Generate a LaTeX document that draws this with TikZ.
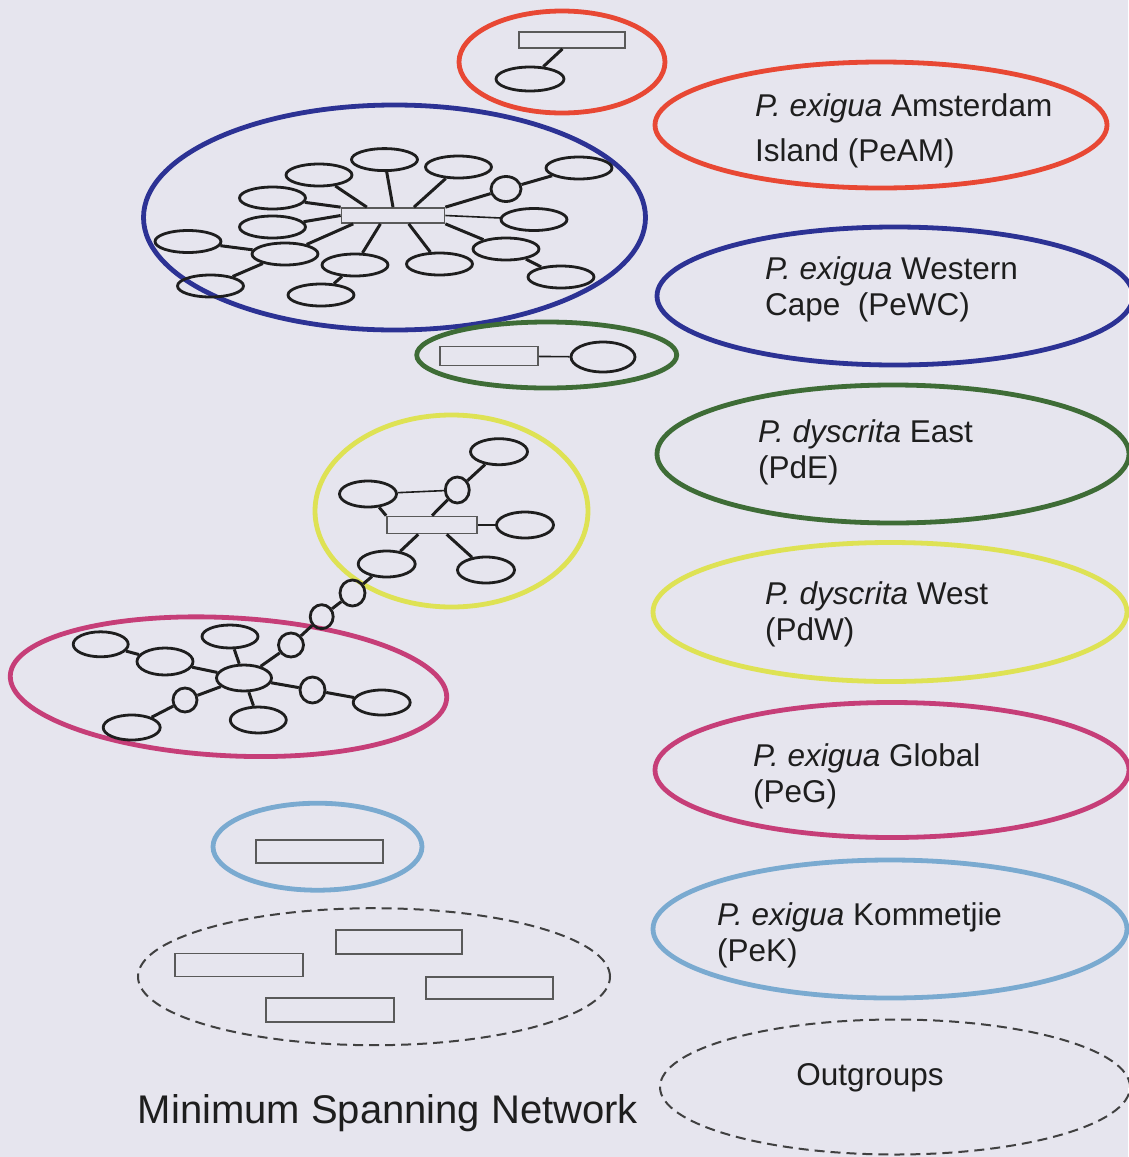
\documentclass[tikz,border=0pt]{standalone}
\usepackage{fontspec}
\setmainfont{Liberation Sans}
\usetikzlibrary{shapes.geometric,calc}
\definecolor{bg}{RGB}{230,229,238}
\definecolor{cred}{RGB}{232,72,52}
\definecolor{cblue}{RGB}{44,50,148}
\definecolor{cgreen}{RGB}{62,108,54}
\definecolor{cyellow}{RGB}{222,226,84}
\definecolor{cmag}{RGB}{198,62,120}
\definecolor{clblue}{RGB}{122,170,208}
\definecolor{ink}{RGB}{30,30,30}
\begin{document}
\begin{tikzpicture}[x=1pt,y=-1pt,
  pop/.style={ellipse,line width=4.8pt,inner sep=0pt},
  outg/.style={ellipse,draw=black!75,line width=2pt,dash pattern=on 10pt off 6pt,inner sep=0pt},
  hap/.style={ellipse,draw=ink,line width=2.8pt,inner sep=0pt,minimum width=66pt,minimum height=22pt},
  haps/.style={hap,minimum width=57pt,minimum height=26pt},
  hrect/.style={rectangle,draw=black!65,line width=1.7pt,inner sep=0pt},
  link/.style={line width=3pt,draw=ink},
  thinlink/.style={line width=1.6pt,draw=ink},
  lab/.style={font=\fontsize{31.5}{36}\selectfont,text=ink,align=left,anchor=west,inner sep=0pt}]
\fill[bg] (0,0) rectangle (1128,1157);
\useasboundingbox (0,0) rectangle (1128,1157);

% ---------- legend ----------
\node[pop,draw=cred,minimum width=452pt,minimum height=126pt] (lAM) at (881,125) {};
\node[pop,draw=cblue,minimum width=476pt,minimum height=138pt] (lWC) at (895,296) {};
\node[pop,draw=cgreen,minimum width=472pt,minimum height=138pt] (lPdE) at (893,454) {};
\node[pop,draw=cyellow,minimum width=474pt,minimum height=139pt] (lPdW) at (890,612) {};
\node[pop,draw=cmag,minimum width=474pt,minimum height=135pt] (lPeG) at (892,770) {};
\node[pop,draw=clblue,minimum width=474pt,minimum height=138pt] (lPeK) at (890,929) {};
\node[outg,minimum width=470pt,minimum height=135pt] (lOut) at (895,1087) {};

\node[lab,font=\fontsize{31.5}{45}\selectfont] (tAM) at (755,130.5) {\textit{P. exigua} Amsterdam\\Island (PeAM)};
\node[lab] (tWC) at (765,289.5) {\textit{P. exigua} Western\\Cape~ (PeWC)};
\node[lab] (tPdE) at (758,452.5) {\textit{P. dyscrita} East\\(PdE)};
\node[lab] (tPdW) at (765,614) {\textit{P. dyscrita} West\\(PdW)};
\node[lab] (tPeG) at (753,776.5) {\textit{P. exigua} Global\\(PeG)};
\node[lab] (tPeK) at (717,935.5) {\textit{P. exigua} Kommetjie\\(PeK)};
\node[lab,anchor=center] (tOut) at (870,1078) {Outgroups};
\node[font=\fontsize{40}{46}\selectfont,text=ink,inner sep=0pt] (title) at (388,1113) {Minimum Spanning Network};

% ---------- PeAM ----------
\node[pop,draw=cred,minimum width=206pt,minimum height=102pt] (pAM) at (562,62) {};
\node[hrect,minimum width=106pt,minimum height=16pt] (rAM) at (572,40) {};
\node[hap,minimum width=68pt,minimum height=24pt] (hAM) at (530,79) {};
\draw[link] (rAM) -- (hAM);

% ---------- PeWC ----------
\node[pop,draw=cblue,minimum width=502pt,minimum height=225pt] (pWC) at (394.5,217.5) {};
\node[hrect,minimum width=103pt,minimum height=15pt] (rWC) at (393,215.5) {};
\node[hap] (w1) at (384.5,159.6) {};
\node[hap] (w2) at (319,175) {};
\node[hap] (w3) at (272.5,198) {};
\node[hap] (w4) at (272.5,227) {};
\node[hap] (w5) at (188,241.5) {};
\node[hap] (w6) at (285,254) {};
\node[hap] (w7) at (210.5,286) {};
\node[hap] (w8) at (355,265) {};
\node[hap] (w9) at (321,295) {};
\node[hap] (w10) at (439.5,264) {};
\node[hap] (w11) at (506,249) {};
\node[hap] (w12) at (561,277) {};
\node[hap] (w13) at (534,219.5) {};
\node[hap,minimum width=30pt,minimum height=25pt] (w14) at (506,189) {};
\node[hap] (w15) at (579,168) {};
\node[hap] (w16) at (458.5,167) {};
\draw[link] (rWC.north) -- (w1);
\draw[link] ($(rWC.north west)!0.25!(rWC.north east)$) -- (w2);
\draw[link] (rWC.north west) -- (w3);
\draw[link] (rWC.west) -- (w4);
\draw[link] ($(rWC.south west)!0.12!(rWC.south east)$) -- (w6);
\draw[link] (w6) -- (w5);
\draw[link] (w6) -- (w7);
\draw[link] ($(rWC.south west)!0.38!(rWC.south east)$) -- (w8);
\draw[link] (w8) -- (w9);
\draw[link] ($(rWC.south west)!0.65!(rWC.south east)$) -- (w10);
\draw[link] (rWC.south east) -- (w11);
\draw[link] (w11) -- (w12);
\draw[thinlink] (rWC.east) -- (w13);
\draw[link] (rWC.north east) -- (w14);
\draw[link] (w14) -- (w15);
\draw[link] ($(rWC.north west)!0.7!(rWC.north east)$) -- (w16);

% ---------- PdE ----------
\node[pop,draw=cgreen,minimum width=260pt,minimum height=66pt] (pdE) at (546.7,355) {};
\node[hrect,minimum width=98pt,minimum height=19pt] (rdE) at (489,356) {};
\node[hap,minimum width=64pt,minimum height=30pt] (hdE) at (603,357) {};
\draw[thinlink] (rdE) -- (hdE);

% ---------- PdW ----------
\node[pop,draw=cyellow,minimum width=273pt,minimum height=192pt] (pdW) at (451.5,511) {};
\node[hrect,minimum width=90pt,minimum height=17pt] (rdW) at (432,525) {};
\node[haps] (ya) at (499,451.7) {};
\node[hap,minimum width=24pt,minimum height=26pt] (yb) at (457.3,490) {};
\node[haps] (yc) at (368,494) {};
\node[haps] (yd) at (525,525) {};
\node[haps] (ye) at (486,570) {};
\node[haps] (yf) at (386.7,564) {};
\node[hap,minimum width=25pt,minimum height=26pt] (yg) at (352.5,593) {};
\draw[thinlink] (yc) -- (yb);
\draw[link] (yb) -- (ya);
\draw[link] (rdW.north) -- (yb);
\draw[link] (yc) -- (rdW.north west);
\draw[thinlink] (rdW.east) -- (yd);
\draw[link] ($(rdW.south west)!0.35!(rdW.south east)$) -- (yf);
\draw[link] ($(rdW.south west)!0.66!(rdW.south east)$) -- (ye);
\draw[link] (yf) -- (yg);

% ---------- PeG ----------
\node[pop,draw=cmag,minimum width=437pt,minimum height=138pt,rotate=-3] (pG) at (228.5,686.7) {};
\node[hap,minimum width=55pt,minimum height=26pt] (mhub) at (244,678) {};
\node[hap,minimum width=56pt,minimum height=23pt] (mtop) at (230,636.5) {};
\node[hap,minimum width=55pt,minimum height=25pt] (ml1) at (100.7,644.3) {};
\node[hap,minimum width=56pt,minimum height=27pt] (ml2) at (165,661.5) {};
\node[hap,minimum width=24pt,minimum height=24pt] (mdl) at (185,700) {};
\node[hap,minimum width=57pt,minimum height=25pt] (mbl) at (131.7,727.5) {};
\node[hap,minimum width=56pt,minimum height=26pt] (mb) at (258.3,720) {};
\node[hap,minimum width=25pt,minimum height=26pt] (mr) at (312.5,690) {};
\node[hap,minimum width=57pt,minimum height=25pt] (mfr) at (381.7,702.5) {};
\node[hap,minimum width=25pt,minimum height=24pt] (mi) at (291,645) {};
\node[hap,minimum width=23pt,minimum height=24pt] (mh) at (321.7,616.7) {};
\draw[link] (mhub) -- (mtop);
\draw[link] (mhub) -- (ml2);
\draw[link] (ml2) -- (ml1);
\draw[link] (mhub) -- (mdl);
\draw[link] (mdl) -- (mbl);
\draw[link] (mhub) -- (mb);
\draw[link] (mhub) -- (mr);
\draw[link] (mr) -- (mfr);
\draw[link] (mhub) -- (mi);
\draw[link] (mi) -- (mh);
\draw[link] (mh) -- (yg);

% ---------- PeK ----------
\node[pop,draw=clblue,minimum width=209pt,minimum height=87pt] (pK) at (317.5,846.7) {};
\node[hrect,minimum width=127pt,minimum height=23pt] (rK) at (319.3,851.7) {};

% ---------- Outgroups ----------
\node[outg,minimum width=472pt,minimum height=137pt] (pOut) at (374,976.7) {};
\node[hrect,minimum width=128pt,minimum height=23pt] (o1) at (238.8,965) {};
\node[hrect,minimum width=126pt,minimum height=24pt] (o2) at (398.8,942) {};
\node[hrect,minimum width=127pt,minimum height=22pt] (o3) at (489.3,988) {};
\node[hrect,minimum width=128pt,minimum height=24pt] (o4) at (330,1010) {};
\end{tikzpicture}
\end{document}
